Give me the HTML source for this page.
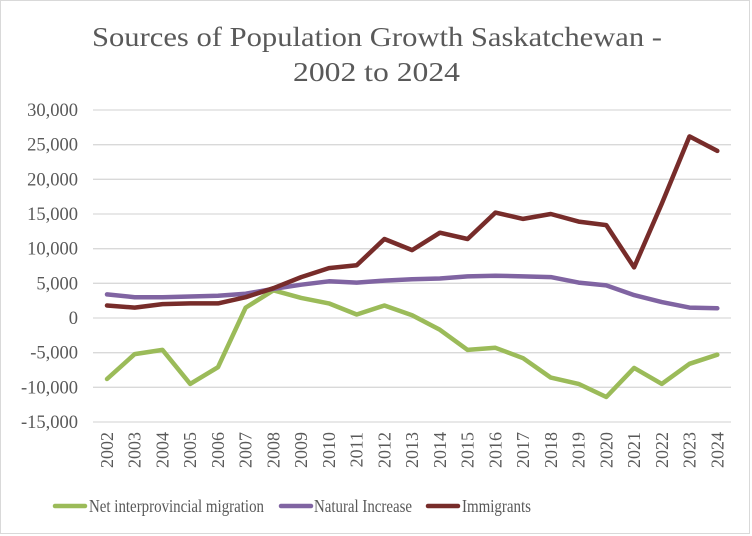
<!DOCTYPE html>
<html><head><style>body{margin:0;background:#fff}svg{display:block}text{font-family:"Liberation Serif",serif;fill:#595959}</style></head>
<body>
<svg width="752" height="536" viewBox="0 0 752 536" xmlns="http://www.w3.org/2000/svg">
<rect x="0.5" y="0.5" width="749" height="533" fill="#fff" stroke="#d9d9d9"/>
<text x="92" y="46" font-size="27" textLength="570" lengthAdjust="spacingAndGlyphs">Sources of Population  Growth Saskatchewan -</text>
<text x="293" y="81" font-size="27" textLength="167" lengthAdjust="spacingAndGlyphs">2002 to 2024</text>
<g stroke="#d9d9d9" stroke-width="1.3">
<line x1="93" x2="731" y1="110" y2="110"/><line x1="93" x2="731" y1="144.7" y2="144.7"/><line x1="93" x2="731" y1="179.3" y2="179.3"/><line x1="93" x2="731" y1="214" y2="214"/><line x1="93" x2="731" y1="248.7" y2="248.7"/><line x1="93" x2="731" y1="283.3" y2="283.3"/><line x1="93" x2="731" y1="318" y2="318"/><line x1="93" x2="731" y1="352.7" y2="352.7"/><line x1="93" x2="731" y1="387.3" y2="387.3"/><line x1="93" x2="731" y1="422" y2="422"/>
</g>
<g font-size="18.5" text-anchor="end">
<text x="78" y="116">30,000</text><text x="78" y="150.7">25,000</text><text x="78" y="185.3">20,000</text><text x="78" y="220">15,000</text><text x="78" y="254.7">10,000</text><text x="78" y="289.3">5,000</text><text x="78" y="324">0</text><text x="78" y="358.7">-5,000</text><text x="78" y="393.3">-10,000</text><text x="78" y="428">-15,000</text>
</g>
<g font-size="18" text-anchor="end">
<text transform="translate(113,432) rotate(-90)">2002</text><text transform="translate(140.7,432) rotate(-90)">2003</text><text transform="translate(168.5,432) rotate(-90)">2004</text><text transform="translate(196.2,432) rotate(-90)">2005</text><text transform="translate(224,432) rotate(-90)">2006</text><text transform="translate(251.7,432) rotate(-90)">2007</text><text transform="translate(279.4,432) rotate(-90)">2008</text><text transform="translate(307.2,432) rotate(-90)">2009</text><text transform="translate(334.9,432) rotate(-90)">2010</text><text transform="translate(362.7,432) rotate(-90)">2011</text><text transform="translate(390.4,432) rotate(-90)">2012</text><text transform="translate(418.1,432) rotate(-90)">2013</text><text transform="translate(445.9,432) rotate(-90)">2014</text><text transform="translate(473.6,432) rotate(-90)">2015</text><text transform="translate(501.4,432) rotate(-90)">2016</text><text transform="translate(529.1,432) rotate(-90)">2017</text><text transform="translate(556.8,432) rotate(-90)">2018</text><text transform="translate(584.6,432) rotate(-90)">2019</text><text transform="translate(612.3,432) rotate(-90)">2020</text><text transform="translate(640.1,432) rotate(-90)">2021</text><text transform="translate(667.8,432) rotate(-90)">2022</text><text transform="translate(695.5,432) rotate(-90)">2023</text><text transform="translate(723.3,432) rotate(-90)">2024</text>
</g>
<g fill="none" stroke-width="4.5" stroke-linejoin="round" stroke-linecap="round">
<polyline stroke="#9bbb59" points="107,379 134.7,354.1 162.5,349.9 190.2,383.9 218,367.2 245.7,307.6 273.4,290.3 301.2,297.9 328.9,303.4 356.7,314.5 384.4,305.5 412.1,315.2 439.9,329.8 467.6,349.9 495.4,347.8 523.1,358.2 550.8,377.6 578.6,383.9 606.3,397 634.1,367.9 661.8,383.9 689.5,363.8 717.3,354.7"/>
<polyline stroke="#8064a2" points="107,294.4 134.7,297.2 162.5,297.2 190.2,296.5 218,295.8 245.7,293.7 273.4,288.9 301.2,284.7 328.9,281.3 356.7,282.6 384.4,280.6 412.1,279.2 439.9,278.5 467.6,276.4 495.4,275.7 523.1,276.4 550.8,277.1 578.6,282.6 606.3,285.4 634.1,295.1 661.8,302.1 689.5,307.6 717.3,308.3"/>
<polyline stroke="#772c2a" points="107,305.5 134.7,307.6 162.5,304.1 190.2,303.4 218,303.4 245.7,297.2 273.4,288.2 301.2,277.1 328.9,268.1 356.7,265.3 384.4,239 412.1,250.1 439.9,232.7 467.6,239 495.4,212.6 523.1,218.9 550.8,214 578.6,221.6 606.3,225.1 634.1,267.4 661.8,203.6 689.5,136.4 717.3,150.9"/>
</g>
<g stroke-width="4.5" stroke-linecap="round">
<line x1="55" x2="85" y1="506" y2="506" stroke="#9bbb59"/>
<line x1="281" x2="311" y1="506" y2="506" stroke="#8064a2"/>
<line x1="428" x2="458" y1="506" y2="506" stroke="#772c2a"/>
</g>
<g font-size="17.5">
<text x="89" y="512" textLength="175" lengthAdjust="spacingAndGlyphs">Net interprovincial migration</text>
<text x="314" y="512" textLength="98" lengthAdjust="spacingAndGlyphs">Natural Increase</text>
<text x="462" y="512" textLength="69" lengthAdjust="spacingAndGlyphs">Immigrants</text>
</g>
</svg>
</body></html>
